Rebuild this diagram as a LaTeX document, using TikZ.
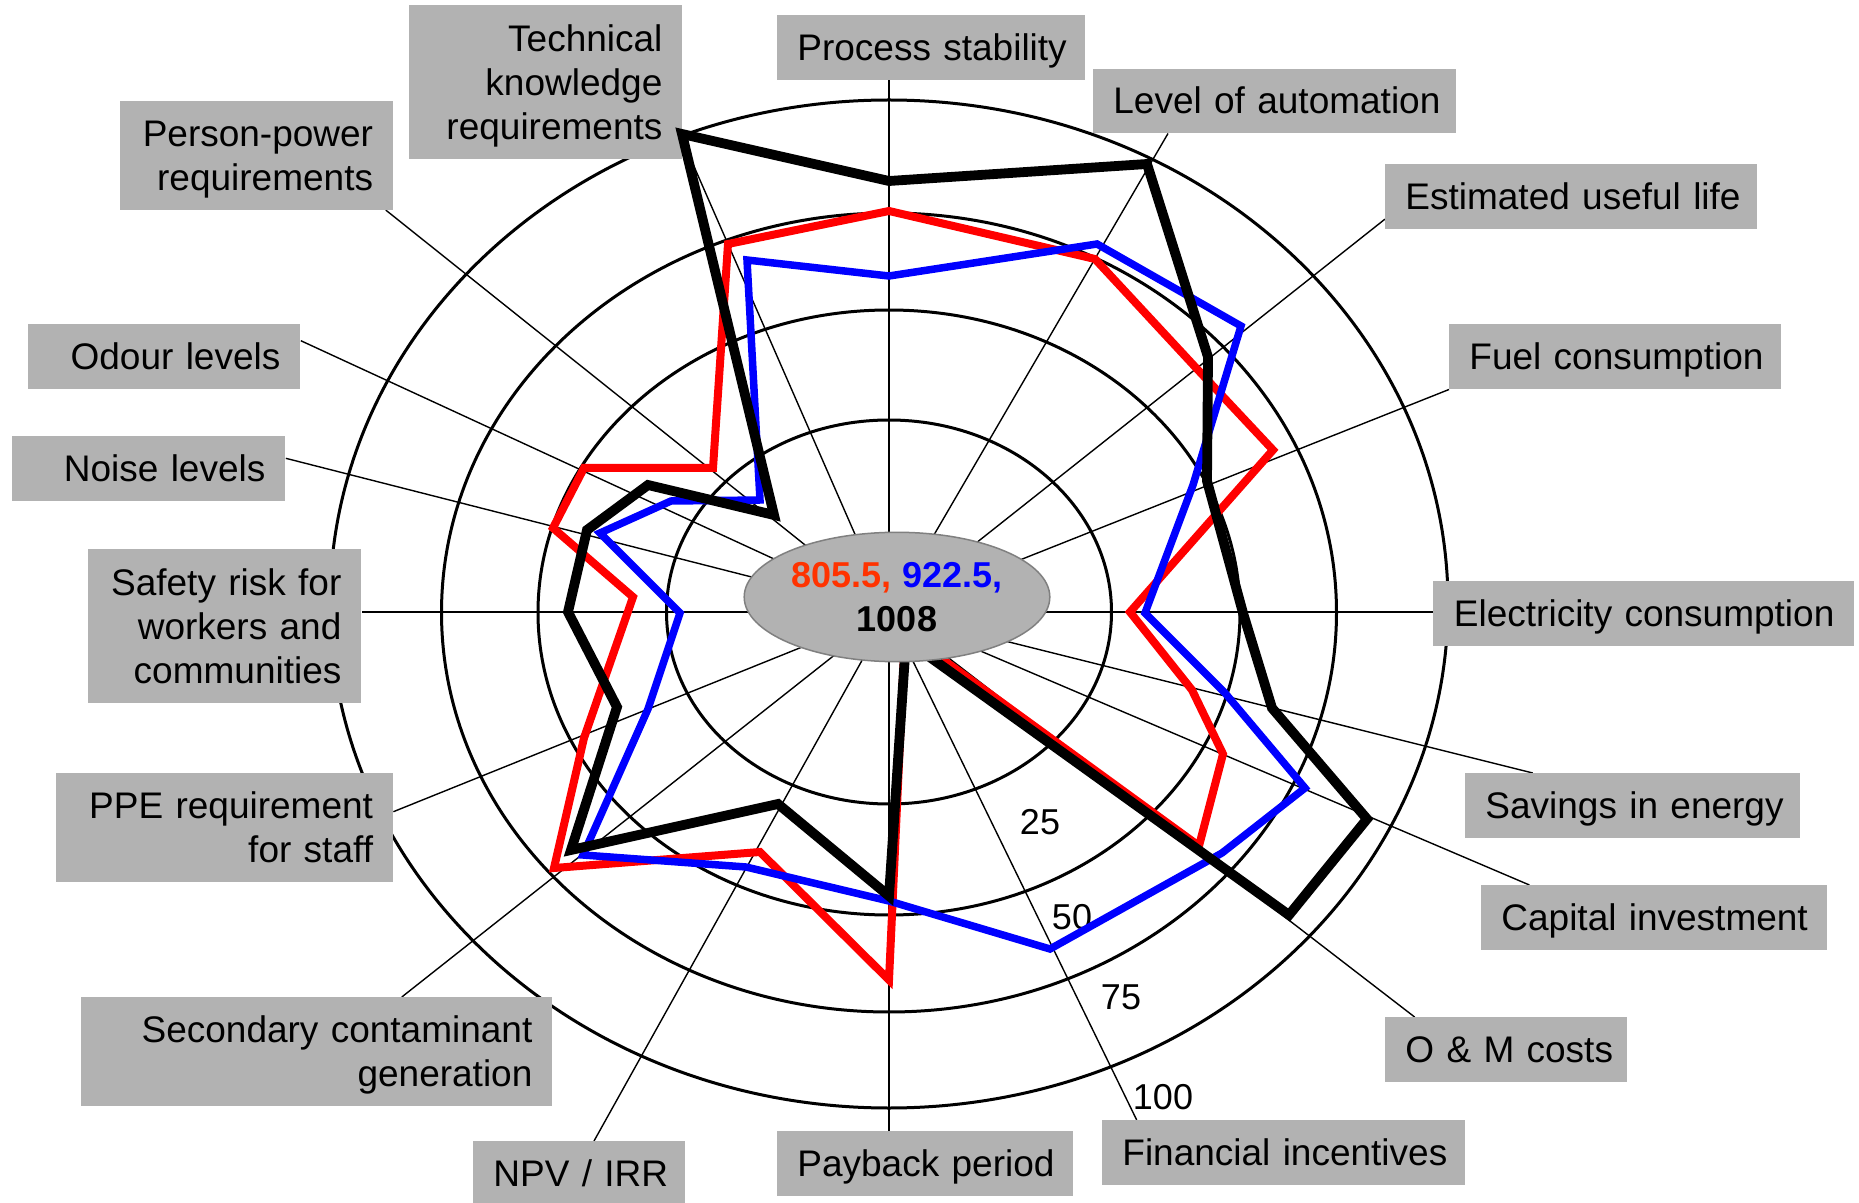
\documentclass[tikz,border=0pt]{standalone}
\usepackage{fontspec}
\setmainfont{Liberation Sans}
\usetikzlibrary{calc,shapes.geometric}
\pgfdeclarelayer{background}
\pgfsetlayers{background,main}
\definecolor{boxgray}{RGB}{178,178,178}
\definecolor{ellborder}{RGB}{128,128,128}
\definecolor{numred}{RGB}{255,51,0}
\definecolor{polyred}{RGB}{255,0,0}
\definecolor{polyblue}{RGB}{0,0,255}
\newcommand{\lblfont}{\fontsize{18.5pt}{22pt}\selectfont}
\newcommand{\ctrfont}{\fontsize{18pt}{21.7pt}\selectfont\bfseries}
\newcommand{\sclfont}{\fontsize{18pt}{21.6pt}\selectfont}
\newcommand{\lline}[1]{\mbox{\rule[-4pt]{0pt}{21pt}#1}}
\begin{document}
\begin{tikzpicture}[x=0.5pt,y=-0.5pt,
  lbl/.style={fill=boxgray, anchor=north west, inner xsep=10pt, inner ysep=0pt, align=right, font=\lblfont},
  spoke/.style={draw=black, line width=0.7pt},
  gridell/.style={draw=black, line width=1.5pt},
  redln/.style={draw=polyred, line width=4pt, line join=miter},
  blueln/.style={draw=polyblue, line width=3.75pt, line join=miter},
  blackln/.style={draw=black, line width=4.9pt, line join=miter},
  ctrell/.style={ellipse, fill=boxgray, draw=ellborder, line width=0.75pt, minimum width=152.8pt, minimum height=64.7pt, inner sep=0pt, align=center, font=\ctrfont},
  scl/.style={inner sep=0pt, font=\sclfont}
]
\useasboundingbox (0,0) rectangle (1859,1203);
\coordinate (O) at (889,612);

% label boxes
\node[lbl, text width=134pt, minimum height=32.25pt] (lblP) at (777,15) {\lline{Process stability}};
\node[lbl, text width=161.5pt, minimum height=32.2pt] (lblL) at (1093,68.3) {\lline{Level of automation}};
\node[lbl, text width=166pt, minimum height=32.35pt] (lblE) at (1385,164) {\lline{Estimated useful life}};
\node[lbl, text width=146pt, minimum height=32.35pt] (lblF) at (1449,324) {\lline{Fuel consumption}};
\node[lbl, text width=190.5pt, minimum height=32.35pt] (lblEl) at (1433,581) {\lline{Electricity consumption}};
\node[lbl, text width=147.5pt, minimum height=32.35pt] (lblS) at (1465,773) {\lline{Savings in energy}};
\node[lbl, text width=153pt, minimum height=32.35pt] (lblC) at (1481,885) {\lline{Capital investment}};
\node[lbl, text width=101pt, minimum height=32.35pt] (lblO) at (1385,1017) {\lline{O \& M costs}};
\node[lbl, text width=161.5pt, minimum height=32.35pt] (lblFi) at (1102,1120) {\lline{Financial incentives}};
\node[lbl, text width=127.85pt, minimum height=32.35pt] (lblPb) at (777,1131) {\lline{Payback period}};
\node[lbl, text width=85.75pt, minimum height=32.35pt] (lblN) at (473,1141) {\lline{NPV / IRR}};
\node[lbl, text width=215.5pt, minimum height=54.35pt] (lblSe) at (81,997) {\lline{Secondary contaminant}\\\lline{generation}};
\node[lbl, text width=148.3pt, minimum height=54.35pt] (lblPP) at (56,773) {\lline{PPE requirement}\\\lline{for staff}};
\node[lbl, text width=116.5pt, minimum height=76.85pt] (lblSa) at (88,549) {\lline{Safety risk for}\\\lline{workers and}\\\lline{communities}};
\node[lbl, text width=116.5pt, minimum height=32.35pt] (lblNo) at (12,436) {\lline{Noise levels}};
\node[lbl, text width=116pt, minimum height=32.35pt] (lblOd) at (28,324) {\lline{Odour levels}};
\node[lbl, text width=116.35pt, minimum height=54.15pt] (lblPe) at (120,101) {\lline{Person-power}\\\lline{requirements}};
\node[lbl, text width=116.5pt, minimum height=77pt] (lblT) at (409,5) {\lline{Technical}\\\lline{knowledge}\\\lline{requirements}};

\begin{pgfonlayer}{background}
\fill[white] (0,0) rectangle (1859,1203);
% grid ellipses
\draw[gridell] (889,612) ellipse [x radius=111.25pt, y radius=96pt];
\draw[gridell] (889,612.5) ellipse [x radius=175.5pt, y radius=151.25pt];
\draw[gridell] (889,612.5) ellipse [x radius=223.75pt, y radius=199.75pt];
\draw[gridell] (889,604) ellipse [x radius=279.5pt, y radius=252pt];
% spokes
\draw[spoke] (O) -- ($(lblP.south west)+(112,0)$);
\draw[spoke] (O) -- ($(lblL.south west)+(75,0)$);
\draw[spoke] (O) -- ($(lblE.south west)+(0,-10.4)$);
\draw[spoke] (O) -- (lblF.south west);
\draw[spoke] (O) -- (lblEl.west |- O);
\draw[spoke] (O) -- ($(lblS.north west)+(67.8,0)$);
\draw[spoke] (O) -- ($(lblC.north west)+(48.4,0)$);
\draw[spoke] (O) -- ($(lblO.north west)+(29.6,0)$);
\draw[spoke] (O) -- ($(lblFi.north west)+(34.7,0)$);
\draw[spoke] (O) -- ($(lblPb.north west)+(112,0)$);
\draw[spoke] (O) -- ($(lblN.north west)+(121,0)$);
\draw[spoke] (O) -- ($(lblSe.north west)+(320.8,0)$);
\draw[spoke] (O) -- ($(lblPP.north east)+(0,38.7)$);
\draw[spoke] (O) -- (lblSa.east |- O);
\draw[spoke] (O) -- ($(lblNo.north east)+(0,22.3)$);
\draw[spoke] (O) -- ($(lblOd.north east)+(0,16.7)$);
\draw[spoke] (O) -- ($(lblPe.south east)+(-7.7,0)$);
\draw[spoke] (O) -- ($(lblT.south east)+(0,-19)$);
\end{pgfonlayer}

% scale labels
\node[scl] (s25) at (1040,822.5) {25};
\node[scl] (s50) at (1072,917.5) {50};
\node[scl] (s75) at (1121,997.5) {75};
\node[scl] (s100) at (1163,1097.5) {100};

% data polygons
\draw[redln] (889,211) -- (1095,259) -- (1198,370) -- (1273,450) -- (1130,612) -- (1192,690) -- (1223,754) -- (1199,846) -- (905,632) -- (889,980) -- (760,852) -- (554,868) -- (584,738) -- (633,597) -- (553,528) -- (584,468) -- (713,468) -- (728,244) -- cycle;
\draw[blueln] (889,276) -- (1097,244) -- (1241,326) -- (1193,485) -- (1145,613) -- (1225,693) -- (1305,788) -- (1222,853) -- (1050,949) -- (889,901) -- (746,867) -- (583,855) -- (648,709) -- (680,613) -- (600,533) -- (671,501) -- (760,500) -- (747,260) -- cycle;
\draw[blackln] (889,181) -- (1147,164) -- (1208,357) -- (1207,481) -- (1243,613) -- (1272,708) -- (1367,819) -- (1289,915) -- (906,640) -- (889,896) -- (778,804) -- (571,850) -- (617,707) -- (568,612) -- (587,530) -- (648,485) -- (774,515) -- (682,134) -- cycle;

% centre ellipse
\node[ctrell] (ctr) at (897,597) {{\color{numred}805.5,} {\color{polyblue}922.5,}\\1008};
\end{tikzpicture}
\end{document}
